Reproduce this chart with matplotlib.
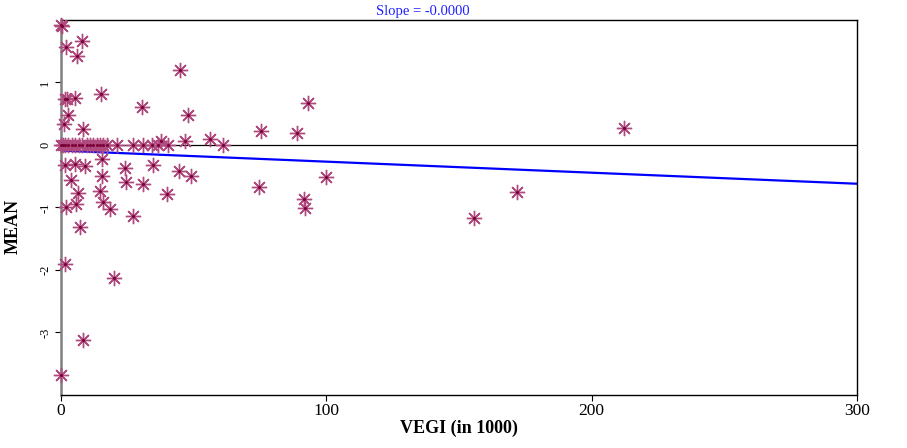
import matplotlib
matplotlib.use("Agg")
import matplotlib.pyplot as plt

# scatter points (VEGI in 1000, MEAN)
vegi = [0.0, 0.4, 1.9, 7.9, 6.0, 44.9,
        1.5, 2.3, 5.3, 15.1, 2.6, 1.1, 8.3, 30.6, 47.9, 93.2, 75.5, 89.1,
        56.2, 212.0, 37.7, 46.8,
        # points sitting on zero
        0.0, 0.75, 1.5, 2.6, 4.2, 5.3, 6.8, 7.9, 9.8, 10.9, 12.0, 13.6,
        14.7, 15.8, 17.4, 21.1, 27.2, 30.9, 34.3, 36.6, 40.4, 61.1,
        # negatives
        1.5, 5.3, 9.0, 3.8, 15.5, 15.5, 14.7, 6.4, 15.8, 18.5, 1.9, 5.7,
        24.2, 24.5, 27.0, 30.9, 34.8, 39.9, 44.5, 49.0, 74.5, 100.0,
        91.4, 92.1, 172.0, 155.6, 7.2, 1.5, 20.0, 8.3, 0.0]
mean = [1.92, 1.90, 1.57, 1.66, 1.42, 1.20,
        0.74, 0.74, 0.75, 0.82, 0.48, 0.34, 0.26, 0.61, 0.48, 0.67, 0.22, 0.19,
        0.10, 0.27, 0.07, 0.07,
        0, 0, 0, 0, 0, 0, 0, 0, 0, 0, 0, 0,
        0, 0, 0, 0, 0, 0, 0, 0, 0, 0,
        -0.32, -0.31, -0.34, -0.56, -0.23, -0.49, -0.73, -0.77, -0.91, -1.02, -0.99, -0.95,
        -0.37, -0.60, -1.13, -0.63, -0.32, -0.79, -0.41, -0.50, -0.67, -0.51,
        -0.86, -1.01, -0.75, -1.17, -1.31, -1.91, -2.13, -3.12, -3.68]

# fitted line end points
fit_x = [0, 300]
fit_y = [-0.09, -0.62]

xticks = [0, 100, 200, 300]
yticks = [-3, -2, -1, 0, 1]

serif = ['Liberation Serif', 'DejaVu Serif']

fig = plt.figure(figsize=(9.07, 4.48), dpi=100)
ax = fig.add_axes([0.0673, 0.1183, 0.8776, 0.8371])

ax.axhline(0, color='black', lw=0.9, zorder=1)
ax.plot(fit_x, fit_y, color='#0000ff', lw=1.6, zorder=2)
ax.plot(vegi, mean, linestyle='none', marker=(8, 2, 0), markersize=11,
        markeredgecolor='#b04a7e', markeredgewidth=1.0, zorder=3, clip_on=False)
ax.plot(vegi, mean, linestyle='none', marker='o', markersize=2.2,
        color='#7a0038', markeredgewidth=0, zorder=4, clip_on=False)

ax.set_xlim(0, 300)
ax.set_ylim(-4, 2)
ax.set_xticks(xticks)
ax.set_yticks(yticks)
ax.set_xticklabels([str(t) for t in xticks], family=serif, fontsize=12.5)
ax.set_yticklabels([str(t) for t in yticks], family=serif, fontsize=9,
                   rotation=90, va='center')
ax.tick_params(axis='both', direction='out', length=4, width=0.8)
ax.tick_params(axis='x', pad=2)
ax.tick_params(axis='y', pad=3)

for s in ['top', 'right', 'bottom']:
    ax.spines[s].set_color('black')
    ax.spines[s].set_linewidth(1.0)
ax.spines['left'].set_color('#808080')
ax.spines['left'].set_linewidth(1.8)

ax.set_xlabel('VEGI (in 1000)', family=serif, fontsize=13, fontweight='bold',
              labelpad=0)
ax.set_ylabel('MEAN', family=serif, fontsize=13, fontweight='bold')
ax.yaxis.set_label_coords(-0.05, 0.45)

fig.text(0.466, 0.975, 'Slope = -0.0000', family=serif, fontsize=10.5,
         color='#2020ff', ha='center', va='center')

fig.savefig('out.png', dpi=100)
